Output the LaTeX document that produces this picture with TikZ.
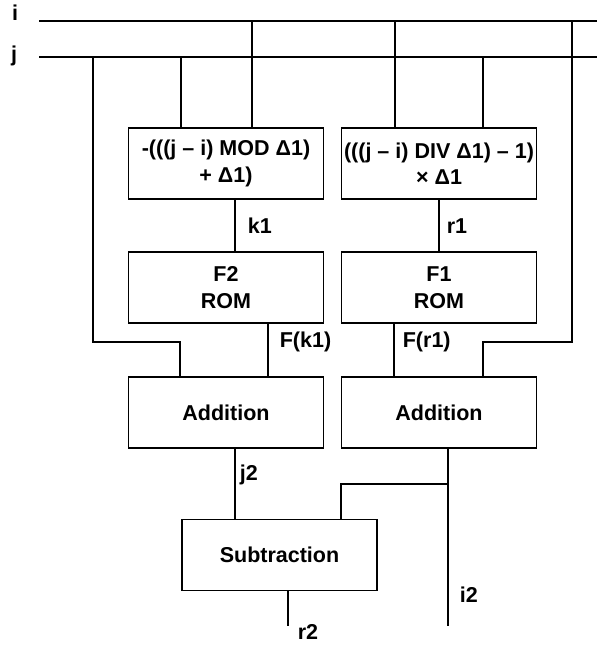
\documentclass[tikz,border=0pt]{standalone}
\usepackage{fontspec}
\setmainfont{Liberation Sans}
\usetikzlibrary{positioning}

\begin{document}
\begin{tikzpicture}[x=1pt, y=-1pt, line width=1.7pt,
      every node/.style={font=\fontsize{21.5}{26.5}\selectfont\bfseries},
      blk/.style={draw, thick, line width=1.7pt, minimum width=195pt,
        minimum height=71pt, align=center, inner sep=0pt},
      lbl/.style={anchor=west, inner sep=0pt}]
    \useasboundingbox (0,0) rectangle (597,645);
    % ---- input buses
    \node (li) at (15,13) {i};
    \node (lj) at (14,56) {j};
    \coordinate (iW) at (39,21);  \coordinate (iE) at (597,21);
    \coordinate (jW) at (39,57);  \coordinate (jE) at (597,57);
    \draw (iW) -- (iE);
    \draw (jW) -- (jE);
    % ---- row 1: MOD / DIV
    \node[blk] (mod) at (226,163.5) {-(((j – i) MOD Δ1)\\+ Δ1)};
    \node[blk] (div) at (439,163.5) {(((j – i) DIV Δ1) – 1)\\× Δ1};
    % ---- row 2: ROMs
    \node[blk] (romb) at (226,287.5) {F2\\ROM};
    \node[blk] (roma) at (439,287.5) {F1\\ROM};
    % ---- row 3: adders
    \node[blk] (adda) at (226,412.5) {Addition};
    \node[blk] (addb) at (439,412.5) {Addition};
    % ---- row 4: subtractor
    \node[blk] (sub) at (279.5,555) {Subtraction};
    % ---- taps on the buses
    \coordinate (tja) at (93,57);   \coordinate (tjb) at (181,57);
    \coordinate (tia) at (252,21);  \coordinate (tib) at (395,21);
    \coordinate (tjc) at (483,57);  \coordinate (tic) at (572,21);
    \draw (tjb) -- (tjb |- mod.north);
    \draw (tia) -- (tia |- mod.north);
    \draw (tib) -- (tib |- div.north);
    \draw (tjc) -- (tjc |- div.north);
    \draw (tja) -- (93,342) -- (180,342) -- (180,0 |- adda.north);
    \draw (tic) -- (572,342) -- (483,342) -- (483,0 |- addb.north);
    % ---- k1, r1
    \draw (235,0 |- mod.south) -- (235,0 |- romb.north);
    \draw (div.south) -- (roma.north);
    \node[lbl] (lk) at (247,226) {k1};
    \node[lbl] (lr) at (446,226) {r1};
    % ---- F(k1), F(r1)
    \draw (268,0 |- romb.south) -- (268,0 |- adda.north);
    \draw (394,0 |- roma.south) -- (394,0 |- addb.north);
    \node[lbl] (lfk) at (279,342) {F(k1)};
    \node[lbl] (lfr) at (402,342) {F(r1)};
    % ---- j2, i2, r2
    \coordinate (oi) at (448,626);
    \coordinate (or) at (288,626);
    \draw (235,0 |- adda.south) -- (235,0 |- sub.north);
    \draw (448,0 |- addb.south) -- (oi);
    \draw (448,484) -- (341,484) -- (341,0 |- sub.north);
    \draw (288,0 |- sub.south) -- (or);
    \node[lbl] (lj2) at (239,475) {j2};
    \node[lbl] (li2) at (459,595) {i2};
    \node[lbl] (lr2) at (297,632) {r2};
  \end{tikzpicture}
\end{document}
